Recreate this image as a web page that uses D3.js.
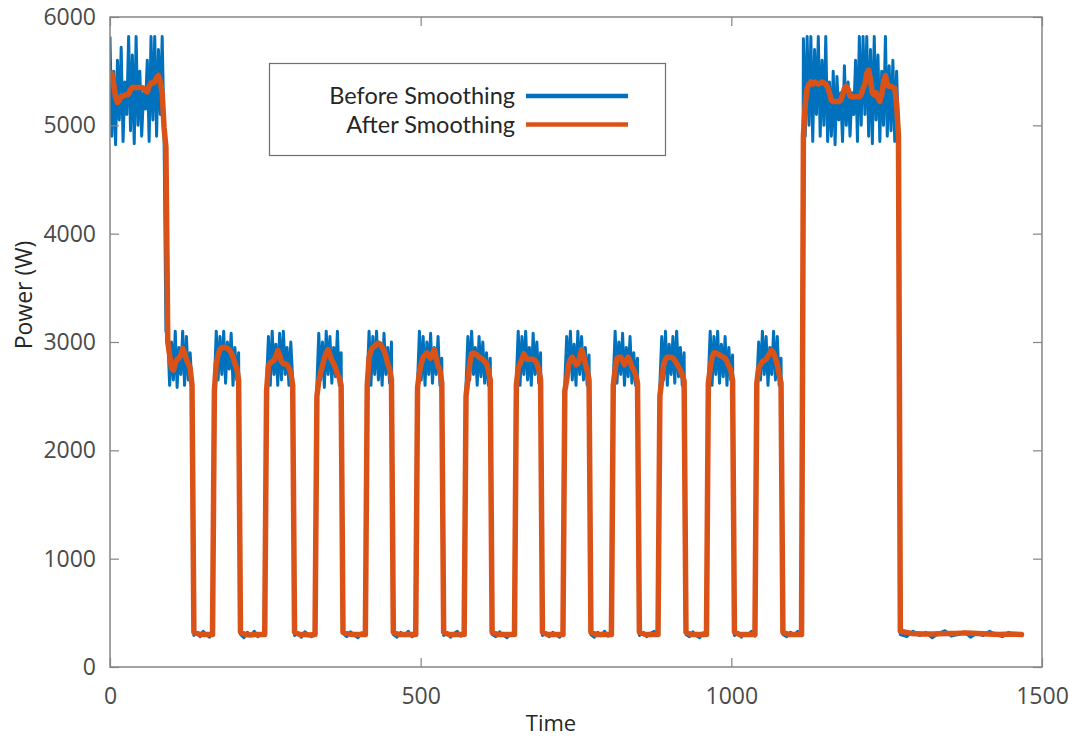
<!DOCTYPE html>
<html><head><meta charset="utf-8">
<script src="https://cdn.jsdelivr.net/npm/d3@7"></script>
<style>body{margin:0;background:#fff} svg{display:block}</style>
</head><body><svg id="c" width="1069" height="740"></svg>
<script>
// ---------- data ----------
const xTicks = [0, 500, 1000, 1500];
const yTicks = [0, 1000, 2000, 3000, 4000, 5000, 6000];
const seriesNames = ["Before Smoothing", "After Smoothing"];
const xLabel = "Time";
const yLabel = "Power (W)";

// time span of each segment of the recording (start, end)
const segStart = [0, 93, 135, 168, 210, 252, 297, 333, 375, 414, 456, 495, 537, 573, 615, 654, 696, 732, 774, 810, 852, 885, 927, 963, 1005, 1041, 1083, 1116, 1272];
const segEnd   = [90, 132, 165, 207, 249, 294, 330, 372, 411, 453, 492, 534, 570, 612, 651, 693, 729, 771, 807, 849, 882, 924, 960, 1002, 1038, 1080, 1113, 1269, 1467];

// raw power samples per segment
const beforeSmoothing = [
  [5820,4900,5500,4820,5600,5050,5720,4850,5400,5100,5820,4950,5650,4830,5820,5000,5500,4900,5300,5150,5600,4850,5820,5050,5820,4900,5700,5100,5820,4900,3100],
  [3050,2600,3000,2650,3100,2580,2950,2700,3100,2600,3050,2650,2900,2600],
  [290,320,280,330,300,275,310],
  [2600,3100,2650,3050,2700,3100,2620,3000,2750,3080,2600,2950,2650,2900],
  [300,270,320,290,330,280,310,295],
  [2620,3050,2600,3100,2700,2980,2600,3080,2650,3100,2700,2950,2600,3000,2650],
  [290,315,275,325,300,280,310],
  [2600,3080,2650,3000,2580,3100,2700,3050,2620,2950,2680,3100,2600,2900],
  [310,280,325,295,270,315,300],
  [2650,3100,2600,3050,2700,3100,2650,2980,2600,3080,2700,2950,2620,3000],
  [300,275,320,290,330,280,305],
  [2620,3100,2650,3050,2600,3000,2700,3080,2620,2950,2700,3050,2600,2850],
  [290,320,275,310,330,285,300],
  [2600,3050,2650,3100,2700,2950,2600,3050,2680,3000,2620,2900,2600,2850],
  [300,280,325,295,270,310,300],
  [2650,3100,2600,3050,2700,3100,2650,2950,2600,3080,2700,3000,2620,2900],
  [290,315,280,320,300,275,310],
  [2620,3050,2700,3100,2650,2980,2600,3100,2700,3050,2650,2950,2600,2880],
  [300,275,320,290,330,285,305],
  [2650,3100,2620,3000,2700,3080,2600,2950,2680,3050,2620,2900,2600,2850],
  [290,320,280,310,330,295],
  [2600,3050,2650,3100,2600,2980,2700,3050,2620,3100,2680,2950,2600,2900],
  [300,280,325,290,270,315,300],
  [2650,3100,2600,3050,2700,3100,2620,2980,2680,3050,2600,2950,2650,2880],
  [290,320,275,310,300,330,285],
  [2600,3000,2650,3100,2700,3050,2600,2950,2700,3100,2650,3050,2600,2850],
  [300,280,320,295,330,290],
  [5800,4900,5820,5000,5820,4850,5700,5100,5820,4900,5600,5000,5820,4850,5400,4900,5500,4820,5450,5050,5300,4850,5550,5000,5400,4900,5300,5100,5600,4850,5820,5000,5820,5100,5820,4900,5700,4830,5820,5050,5650,4850,5500,5000,5820,4900,5550,4950,5600,4850,5500,4900],
  [300,280,330,290,320,270,310,335,285,300,325,275,310,290,330,300,280,320,295,310]
];

// smoothed power per segment
const afterSmoothing = [
  [5450,5480,5380,5260,5210,5230,5270,5270,5280,5280,5290,5330,5350,5350,5350,5350,5350,5350,5340,5320,5310,5360,5390,5390,5400,5440,5460,5400,5300,4980,4800],
  [3000,2880,2760,2740,2800,2840,2850,2880,2940,2900,2840,2800,2760,2600],
  [320,305,300,300,300],
  [2550,2800,2880,2930,2950,2950,2950,2940,2930,2900,2860,2800,2760,2650],
  [320,300,295,300,300,300],
  [2550,2780,2810,2820,2830,2870,2920,2880,2820,2800,2800,2790,2760,2720,2600],
  [320,300,300,295,300],
  [2500,2640,2720,2780,2850,2900,2930,2880,2830,2800,2760,2700,2670,2600],
  [320,305,300,300,300],
  [2600,2860,2920,2950,2960,2980,2990,2980,2950,2920,2870,2800,2750,2650],
  [320,300,300,300,300],
  [2580,2720,2800,2860,2880,2900,2870,2850,2890,2930,2850,2780,2740,2620],
  [320,300,300,300,300],
  [2500,2650,2800,2890,2900,2890,2880,2860,2850,2840,2820,2800,2740,2650],
  [320,300,300,300,300],
  [2600,2760,2800,2840,2890,2860,2840,2840,2840,2840,2830,2800,2750,2650],
  [320,300,300,300,300],
  [2550,2650,2790,2840,2860,2820,2790,2800,2860,2930,2880,2800,2740,2650],
  [320,300,300,300,300],
  [2600,2750,2850,2860,2860,2830,2790,2830,2860,2820,2770,2740,2700,2620],
  [320,300,300,300],
  [2500,2650,2790,2840,2860,2860,2860,2850,2830,2800,2770,2740,2700,2640],
  [320,300,300,300,300],
  [2620,2760,2860,2900,2900,2890,2880,2870,2860,2850,2820,2780,2740,2650],
  [320,300,300,300,300],
  [2620,2760,2790,2820,2830,2840,2870,2900,2920,2900,2850,2790,2700,2620],
  [320,300,300,300],
  [4900,5200,5340,5380,5400,5380,5400,5390,5380,5390,5400,5390,5380,5350,5300,5230,5220,5220,5220,5220,5230,5280,5340,5360,5330,5270,5265,5265,5265,5265,5265,5280,5340,5380,5480,5510,5420,5300,5280,5300,5250,5220,5280,5400,5460,5370,5360,5360,5350,5340,5200,4900],
  [330,310,305,305,310,310,315,310,305,300,305,300]
];

// ---------- layout ----------
const W = 1069, H = 740;
const m = {left: 110, right: 27, top: 17, bottom: 73};
const svg = d3.select("#c");
const x = d3.scaleLinear().domain([0, 1500]).range([m.left, W - m.right]);
const y = d3.scaleLinear().domain([0, 6000]).range([H - m.bottom, m.top]);
const colors = ["#0072BD", "#D95319"];
const axisColor = "#858585";
const fontFam = "'Open Sans', 'DejaVu Sans', sans-serif";
const legendFont = "Lato, 'Open Sans', sans-serif";
const fmt = d3.format("d");

function toPoints(segs) {
  const pts = [];
  segs.forEach((vals, k) => {
    const a = segStart[k], b = segEnd[k], n = vals.length;
    vals.forEach((v, j) => pts.push([n > 1 ? a + (b - a) * j / (n - 1) : a, v]));
  });
  return pts;
}

svg.append("defs").append("clipPath").attr("id", "plotclip")
  .append("rect").attr("x", m.left).attr("y", m.top)
  .attr("width", W - m.left - m.right).attr("height", H - m.top - m.bottom);

const line = d3.line().x(d => x(d[0])).y(d => y(d[1]));
const plot = svg.append("g").attr("clip-path", "url(#plotclip)");
plot.append("path").datum(toPoints(beforeSmoothing))
  .attr("d", line).attr("fill", "none").attr("stroke", colors[0])
  .attr("stroke-width", 3).attr("stroke-linejoin", "round");
plot.append("path").datum(toPoints(afterSmoothing))
  .attr("d", line).attr("fill", "none").attr("stroke", colors[1])
  .attr("stroke-width", 5.5).attr("stroke-linejoin", "round").attr("stroke-linecap", "round");

// axes
function styleAxis(g, showText) {
  g.select(".domain").remove();
  g.selectAll(".tick line").attr("stroke", axisColor).attr("stroke-width", 1.2);
  if (showText) g.selectAll(".tick text").attr("fill", "#4a4a4a").style("font-family", fontFam).style("font-size", "23px");
  else g.selectAll(".tick text").remove();
}
svg.append("g").attr("transform", `translate(0,${H - m.bottom})`)
  .call(d3.axisBottom(x).tickValues(xTicks).tickFormat(fmt).tickSizeInner(-9).tickSizeOuter(0).tickPadding(21))
  .call(g => styleAxis(g, true));
svg.append("g").attr("transform", `translate(0,${m.top})`)
  .call(d3.axisTop(x).tickValues(xTicks).tickSizeInner(-9).tickSizeOuter(0))
  .call(g => styleAxis(g, false));
svg.append("g").attr("transform", `translate(${m.left},0)`)
  .call(d3.axisLeft(y).tickValues(yTicks).tickFormat(fmt).tickSizeInner(-9).tickSizeOuter(0).tickPadding(14))
  .call(g => styleAxis(g, true));
svg.append("g").attr("transform", `translate(${W - m.right},0)`)
  .call(d3.axisRight(y).tickValues(yTicks).tickSizeInner(-9).tickSizeOuter(0))
  .call(g => styleAxis(g, false));

svg.append("rect").attr("x", m.left).attr("y", m.top)
  .attr("width", W - m.left - m.right).attr("height", H - m.top - m.bottom)
  .attr("fill", "none").attr("stroke", axisColor).attr("stroke-width", 1.5);

// axis titles
svg.append("text").attr("x", 551).attr("y", 731).attr("text-anchor", "middle")
  .attr("fill", "#262626").style("font-family", fontFam).style("font-size", "22px").text(xLabel);
svg.append("text").attr("transform", "translate(32,295) rotate(-90)").attr("text-anchor", "middle")
  .attr("fill", "#262626").style("font-family", fontFam).style("font-size", "23px").text(yLabel);

// legend
const lg = svg.append("g");
lg.append("rect").attr("x", 269.5).attr("y", 63.5).attr("width", 396).attr("height", 92)
  .attr("fill", "#fff").attr("stroke", "#6e6e6e").attr("stroke-width", 1.2);
seriesNames.forEach((name, i) => {
  const yy = 96 + i * 28.5;
  lg.append("text").attr("x", 515).attr("y", yy).attr("dy", "0.35em").attr("text-anchor", "end")
    .attr("fill", "#262626").style("font-family", legendFont).style("font-size", "23.5px").text(name);
  lg.append("line").attr("x1", 526).attr("x2", 628).attr("y1", yy).attr("y2", yy)
    .attr("stroke", colors[i]).attr("stroke-width", 4.5);
});
</script>
</body></html>
